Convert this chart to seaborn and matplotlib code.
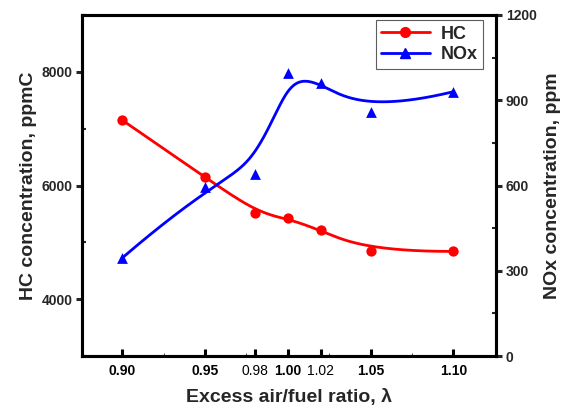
import numpy as np
import pandas as pd
import matplotlib
matplotlib.use("Agg")
import matplotlib.pyplot as plt
from matplotlib.lines import Line2D
from matplotlib.ticker import MultipleLocator, FixedLocator
import seaborn as sns

# Excess air/fuel ratio (lambda) and the measured emissions
lam = [0.90, 0.95, 0.98, 1.00, 1.02, 1.05, 1.10]
hc_ppmc = [7150, 6150, 5520, 5420, 5210, 4840, 4840]
nox_ppm = [345, 595, 640, 995, 960, 860, 930]
x_tick_labels = ["0.90", "0.95", "0.98", "1.00", "1.02", "1.05", "1.10"]


def bspline(xs, ys, n=400, k=3):
    """Clamped uniform cubic B-spline using the measured points as control points."""
    P = np.column_stack([xs, ys]).astype(float)
    m = len(P)
    knots = np.concatenate([np.zeros(k), np.arange(m - k + 1), np.full(k, m - k)]).astype(float)
    t = np.linspace(0, m - k - 1e-9, n)

    def N(i, p):
        if p == 0:
            return ((knots[i] <= t) & (t < knots[i + 1])).astype(float)
        out = np.zeros_like(t)
        d1 = knots[i + p] - knots[i]
        d2 = knots[i + p + 1] - knots[i + 1]
        if d1 > 0:
            out += (t - knots[i]) / d1 * N(i, p - 1)
        if d2 > 0:
            out += (knots[i + p + 1] - t) / d2 * N(i + 1, p - 1)
        return out

    B = np.column_stack([N(i, k) for i in range(m)])
    C = B @ P
    return C[:, 0], C[:, 1]


pts = pd.DataFrame({"lam": lam, "HC": hc_ppmc, "NOx": nox_ppm})
hx, hy = bspline(lam, hc_ppmc)
nx, ny = bspline(lam, nox_ppm)
hc_curve = pd.DataFrame({"lam": hx, "HC": hy})
nox_curve = pd.DataFrame({"lam": nx, "NOx": ny})

sns.set_style("ticks")
plt.rcParams["font.family"] = ["Liberation Sans", "DejaVu Sans"]
plt.rcParams["font.weight"] = "bold"

fig = plt.figure(figsize=(5.68, 4.12), dpi=100)
ax = fig.add_axes([82 / 568, 1 - 356 / 412, (496 - 82) / 568, (356 - 15) / 412])
ax2 = ax.twinx()

red = "#FF0000"
blue = "#0000FF"

sns.lineplot(data=hc_curve, x="lam", y="HC", sort=False, estimator=None,
             color=red, lw=2.0, ax=ax, zorder=3)
sns.scatterplot(data=pts, x="lam", y="HC", color=red, marker="o", s=55,
                edgecolor=red, linewidth=0, ax=ax, zorder=4)
sns.lineplot(data=nox_curve, x="lam", y="NOx", sort=False, estimator=None,
             color=blue, lw=2.0, ax=ax2, zorder=3)
sns.scatterplot(data=pts, x="lam", y="NOx", color=blue, marker="^", s=60,
                edgecolor=blue, linewidth=0, ax=ax2, zorder=4)

ax.set_xlim(0.8757, 1.1258)
ax.set_ylim(3000, 9000)
ax2.set_ylim(0, 1200)

ax.xaxis.set_major_locator(FixedLocator(lam))
ax.set_xticklabels(x_tick_labels)
ax.xaxis.set_minor_locator(MultipleLocator(0.025))
ax.yaxis.set_major_locator(FixedLocator([4000, 6000, 8000]))
ax.yaxis.set_minor_locator(FixedLocator([3000, 5000, 7000, 9000]))
ax2.yaxis.set_major_locator(MultipleLocator(300))
ax2.yaxis.set_minor_locator(MultipleLocator(150))

for lbl in ax.get_xticklabels():
    if lbl.get_text() in ("0.98", "1.02"):
        lbl.set_fontweight("normal")
        lbl.set_fontsize(10.5)

ax.tick_params(axis="x", which="major", direction="in", length=5, width=2.2,
               labelsize=10, pad=6, colors="black")
ax.tick_params(axis="x", which="minor", direction="in", length=2, width=0.6)
ax.tick_params(axis="y", which="major", direction="out", length=4, width=2.2,
               labelsize=10, pad=3)
ax.tick_params(axis="y", which="minor", direction="in", length=3, width=1.5)
ax2.tick_params(axis="y", which="major", direction="out", length=4, width=2.2,
                labelsize=10, pad=3)
ax2.tick_params(axis="y", which="minor", direction="in", length=3, width=1.5)

for a in (ax, ax2):
    for sp in a.spines.values():
        sp.set_visible(True)
        sp.set_linewidth(2.2)
        sp.set_color("black")

ax.set_xlabel("Excess air/fuel ratio, λ", fontsize=14, fontweight="bold", labelpad=8)
ax.set_ylabel("HC concentration, ppmC", fontsize=14, fontweight="bold", labelpad=3)
ax2.set_ylabel("NOx concentration, ppm", fontsize=14, fontweight="bold", labelpad=5)

handles = [
    Line2D([], [], color=red, lw=2.0, marker="o", ms=7),
    Line2D([], [], color=blue, lw=2.0, marker="^", ms=7),
]
leg = ax2.legend(handles, ["HC", "NOx"], loc="upper right",
                 bbox_to_anchor=(0.9686, 0.985), borderaxespad=0,
                 fontsize=13, handlelength=2.7, handletextpad=0.6,
                 labelspacing=0.2, borderpad=0.3, frameon=True, fancybox=False)
leg.get_frame().set_edgecolor("#333333")
leg.get_frame().set_linewidth(0.8)
for t in leg.get_texts():
    t.set_fontweight("bold")

fig.savefig("out.png", dpi=100)
